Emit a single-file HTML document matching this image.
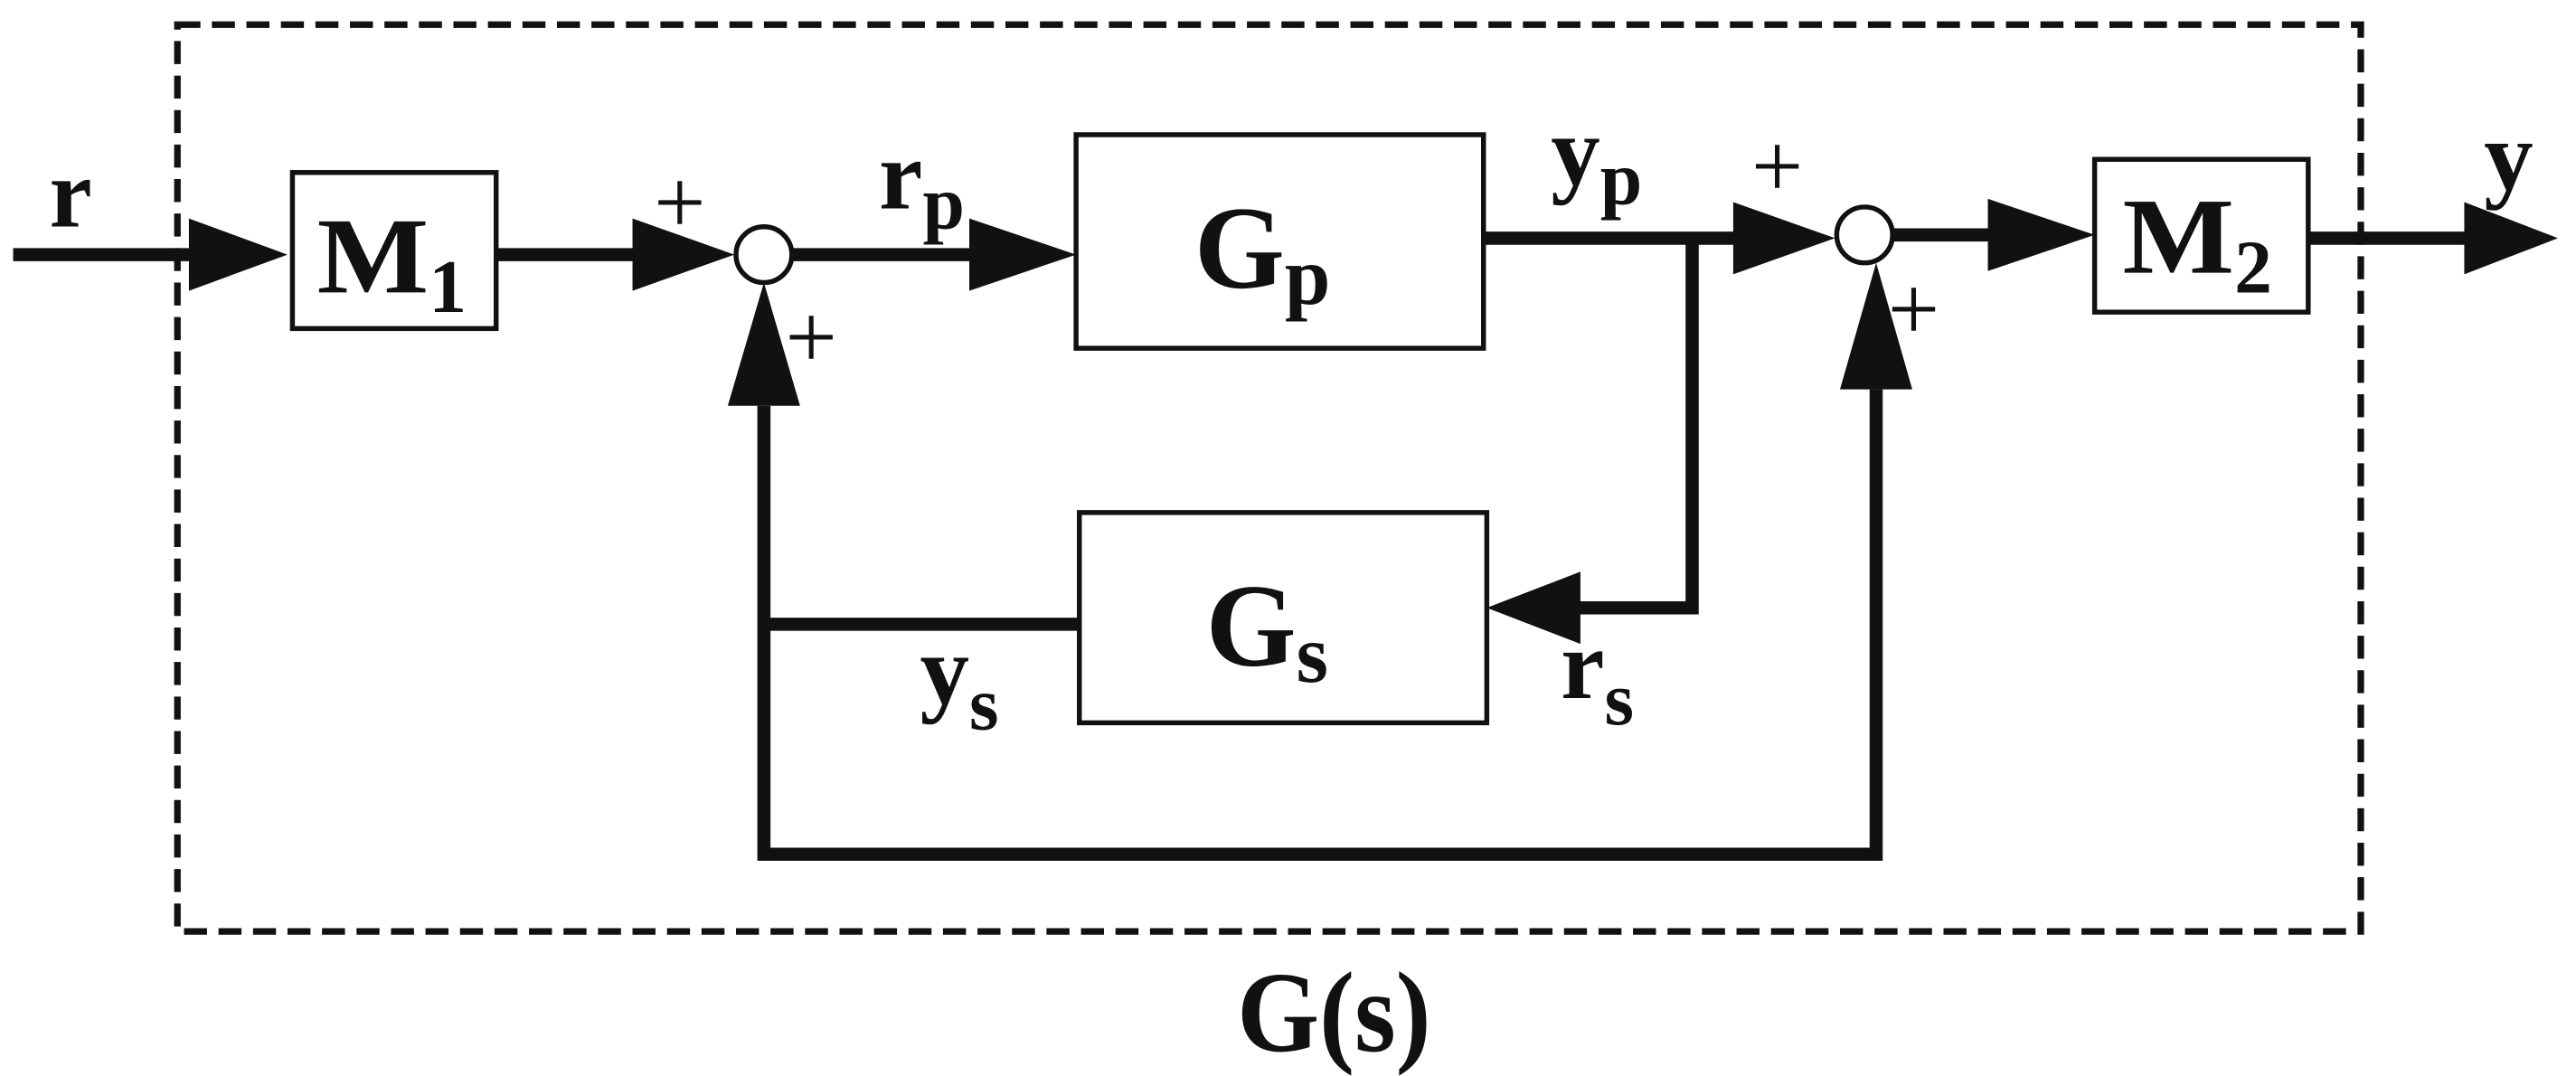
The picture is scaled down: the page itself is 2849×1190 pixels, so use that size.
<!DOCTYPE html>
<html><head><meta charset="utf-8"><style>
html,body{margin:0;padding:0;background:#fff;}
svg{display:block;}
text{font-family:"Liberation Serif","Times New Roman",serif;font-weight:bold;fill:#111;}
.p{font-weight:normal;font-size:56px;}
</style></head><body>
<svg width="2849" height="1190" viewBox="0 0 1568 655" preserveAspectRatio="none" xmlns="http://www.w3.org/2000/svg">
<rect x="108" y="15" width="1329" height="552" fill="none" stroke="#111" stroke-width="4" stroke-dasharray="14,7"/>
<g fill="none" stroke="#111">
<rect x="178" y="105" width="124" height="95" stroke-width="3"/>
<rect x="655" y="82" width="248" height="130" stroke-width="3"/>
<rect x="657" y="312" width="248" height="128" stroke-width="3"/>
<rect x="1275" y="97" width="130" height="93" stroke-width="3"/>
<circle cx="465" cy="155" r="17" stroke-width="3"/>
<circle cx="1135" cy="143" r="17" stroke-width="3"/>
</g>
<g stroke="#111" stroke-width="8" fill="none" stroke-linecap="butt">
<line x1="8" y1="155" x2="118" y2="155"/>
<line x1="302" y1="155" x2="388" y2="155"/>
<line x1="482" y1="155" x2="592" y2="155"/>
<line x1="903" y1="145" x2="1058" y2="145"/>
<polyline points="1030,145 1030,370 958,370"/>
<line x1="657" y1="380" x2="465" y2="380"/>
<polyline points="465,247 465,520 1142,520 1142,237"/>
<line x1="1152" y1="143" x2="1212" y2="143"/>
<line x1="1405" y1="145" x2="1502" y2="145"/>
</g>
<g fill="#111">
<polygon points="115,133 175,155 115,177"/>
<polygon points="385,133 447,155 385,177"/>
<polygon points="590,133 655,155 590,177"/>
<polygon points="1055,123 1117,145 1055,167"/>
<polygon points="962,348 905,370 962,392"/>
<polygon points="443,247 465,172 487,247"/>
<polygon points="1120,237 1142,160 1164,237"/>
<polygon points="1210,121 1275,143 1210,165"/>
<polygon points="1500,123 1557,145 1500,167"/>
</g>
<text x="30" y="138" font-size="60" textLength="26" lengthAdjust="spacingAndGlyphs">r</text>
<text x="193" y="178" font-size="66"><tspan textLength="68" lengthAdjust="spacingAndGlyphs">M</tspan><tspan font-size="46" dy="12">1</tspan></text>
<text x="1292" y="166" font-size="66"><tspan textLength="68" lengthAdjust="spacingAndGlyphs">M</tspan><tspan font-size="46" dy="12">2</tspan></text>
<text x="727" y="175" font-size="72"><tspan textLength="55" lengthAdjust="spacingAndGlyphs">G</tspan><tspan font-size="50" dy="10">p</tspan></text>
<text x="734" y="405" font-size="72"><tspan textLength="55" lengthAdjust="spacingAndGlyphs">G</tspan><tspan font-size="50" dy="10">s</tspan></text>
<text x="535" y="127" font-size="60">r<tspan font-size="46" dy="12">p</tspan></text>
<text x="944" y="112" font-size="60">y<tspan font-size="46" dy="12">p</tspan></text>
<text x="560" y="428" font-size="60">y<tspan font-size="46" dy="16">s</tspan></text>
<text x="950" y="425" font-size="60">r<tspan font-size="46" dy="16">s</tspan></text>
<text x="1512" y="115" font-size="60">y</text>
<text x="753" y="640" font-size="70" textLength="118" lengthAdjust="spacingAndGlyphs">G(s)</text>
<text class="p" x="398" y="142">+</text>
<text class="p" x="478" y="224">+</text>
<text class="p" x="1066" y="120">+</text>
<text class="p" x="1149" y="207">+</text>
</svg>
</body></html>
